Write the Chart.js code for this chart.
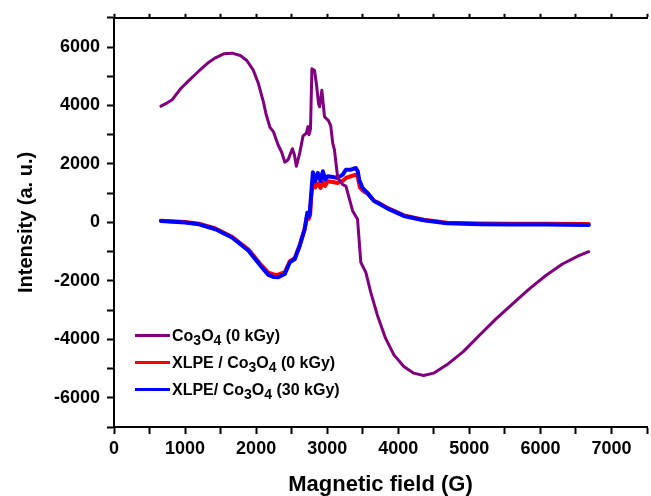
<!DOCTYPE html>
<html><head><meta charset="utf-8">
<script src="https://cdn.jsdelivr.net/npm/chart.js@4/dist/chart.umd.min.js"></script>
<style>
html,body{margin:0;padding:0;background:#fff;}
#wrap{position:relative;width:651px;height:496px;overflow:hidden;background:#fff;}
canvas{display:block;}
#legend{position:absolute;left:135px;top:322px;font:bold 16px "Liberation Sans",Arial,sans-serif;color:#000;}
.row{display:flex;align-items:center;height:27px;white-space:nowrap;}
.sw{width:35px;height:3px;margin-right:2px;flex:none;}
sub{font-size:14px;vertical-align:-4px;line-height:0;}
</style></head><body>
<div id="wrap"><canvas id="c" width="651" height="496"></canvas><div id="legend"></div></div>
<script>
// ---- data ----
const seriesLabels = [
  'Co<sub>3</sub>O<sub>4</sub> (0 kGy)',
  'XLPE / Co<sub>3</sub>O<sub>4</sub> (0 kGy)',
  'XLPE/ Co<sub>3</sub>O<sub>4</sub> (30 kGy)'
];
const seriesColors = ['#800080', '#ff0000', '#0000ff'];

const fieldCo3O4 = [660,750,820,940,1056,1195,1335,1428,1544,1660,1777,1869,1962,2032,2102,2140,2195,2242,2311,2360,2404,2450,2510,2540,2566,2613,2660,2706,2729,2745,2765,2785,2822,2850,2878,2893,2925,2962,3018,3050,3078,3102,3148,3218,3264,3290,3357,3427,3473,3543,3612,3706,3822,3939,4078,4218,4357,4497,4683,4915,5146,5379,5612,5844,6077,6310,6541,6681];
const intensityCo3O4 = [3976,4090,4200,4580,4860,5180,5480,5630,5766,5790,5708,5538,5200,4750,4126,3700,3250,3107,2640,2400,2060,2143,2520,2300,1919,2370,2960,3049,3277,3000,3200,5256,5199,4700,4068,3956,4520,3616,3480,3300,2710,2482,1520,1294,1239,1000,400,105,-1365,-1705,-2384,-3175,-3969,-4533,-4930,-5158,-5236,-5158,-4873,-4421,-3854,-3290,-2781,-2272,-1817,-1423,-1138,-1002];

const fieldXLPE0 = [660,1000,1195,1428,1660,1893,2079,2172,2250,2311,2404,2474,2544,2613,2683,2720,2740,2760,2776,2799,2813,2831,2869,2906,2939,2971,3008,3078,3148,3218,3264,3334,3403,3430,3460,3496,3566,3659,3706,3845,4078,4357,4683,5146,5612,6077,6681];
const intensityXLPE0 = [60,15,-45,-210,-490,-930,-1480,-1720,-1780,-1790,-1700,-1330,-1220,-780,-220,250,120,260,900,1400,1294,1200,1330,1180,1351,1250,1409,1380,1351,1420,1520,1579,1633,1560,1200,1100,990,740,690,500,240,90,-10,-40,-50,-50,-55];

const fieldXLPE30 = [660,1000,1195,1428,1660,1893,2079,2172,2250,2311,2404,2474,2544,2613,2683,2720,2740,2753,2776,2799,2831,2869,2906,2939,2971,3008,3078,3148,3218,3264,3334,3403,3430,3450,3496,3566,3659,3706,3845,4078,4357,4683,5146,5612,6077,6681];
const intensityXLPE30 = [51,0,-65,-234,-516,-968,-1535,-1796,-1870,-1874,-1762,-1365,-1253,-798,-234,333,200,300,1012,1715,1409,1691,1409,1749,1463,1579,1555,1521,1633,1803,1803,1861,1750,1463,1182,1012,730,672,480,221,71,-31,-65,-75,-75,-85];

const xTickValues = [0,1000,2000,3000,4000,5000,6000,7000];
const yTickValues = [-6000,-4000,-2000,0,2000,4000,6000];
const xTitle = 'Magnetic field (G)';
const yTitle = 'Intensity (a. u.)';

// ---- build ----
const toPts = (xs, ys) => xs.map((x, i) => ({x, y: ys[i]}));
const FONT = '"Liberation Sans", Arial, sans-serif';
Chart.defaults.font.family = FONT;
Chart.defaults.color = '#000';

const tickFont = {size: 18, weight: 'bold', family: FONT};
const gridCommon = {display: true, drawOnChartArea: false, drawTicks: true, tickLength: 7, tickColor: '#000', tickWidth: 2};
const borderCommon = {display: true, color: '#000', width: 2};

new Chart(document.getElementById('c'), {
  type: 'line',
  data: {
    datasets: [
      {label: 'Co3O4 (0 kGy)', data: toPts(fieldCo3O4, intensityCo3O4), borderColor: seriesColors[0], borderWidth: 3, order: 0},
      {label: 'XLPE / Co3O4 (0 kGy)', data: toPts(fieldXLPE0, intensityXLPE0), borderColor: seriesColors[1], borderWidth: 4, order: 2},
      {label: 'XLPE/ Co3O4 (30 kGy)', data: toPts(fieldXLPE30, intensityXLPE30), borderColor: seriesColors[2], borderWidth: 4, order: 1}
    ]
  },
  options: {
    responsive: false,
    animation: false,
    events: [],
    layout: {padding: 0},
    elements: {point: {radius: 0}, line: {tension: 0, borderJoinStyle: 'round', borderCapStyle: 'round'}},
    plugins: {legend: {display: false}, tooltip: {enabled: false}},
    scales: {
      x: {
        type: 'linear', position: 'bottom', min: 0, max: 7500,
        ticks: {stepSize: 500, font: tickFont, padding: 4, maxRotation: 0, autoSkip: false,
          callback: v => xTickValues.includes(v) ? String(v) : ''},
        grid: gridCommon, border: borderCommon,
        title: {display: true, text: xTitle, font: {size: 22, weight: 'bold', family: FONT, lineHeight: 1}, padding: {top: 0, bottom: 0}, color: '#000'},
        afterFit: s => { s.height = 69; }
      },
      x2: {
        type: 'linear', position: 'top', min: 0, max: 7500,
        ticks: {stepSize: 500, display: false},
        grid: Object.assign({}, gridCommon, {tickLength: 4}), border: borderCommon,
        afterFit: s => { s.height = 13; }
      },
      y: {
        type: 'linear', position: 'left', min: -7000, max: 7000,
        ticks: {stepSize: 1000, font: tickFont, padding: 7, autoSkip: false,
          callback: v => yTickValues.includes(v) ? String(v) : ''},
        grid: gridCommon, border: borderCommon,
        title: {display: true, text: yTitle, font: {size: 20, weight: 'bold', family: FONT, lineHeight: 1.2}, padding: {top: 14, bottom: 0}, color: '#000'},
        afterFit: s => { s.width = 114; }
      }
    }
  }
});

// HTML legend (real text with subscripts)
const lg = document.getElementById('legend');
seriesLabels.forEach((lab, i) => {
  const row = document.createElement('div'); row.className = 'row';
  const sw = document.createElement('span'); sw.className = 'sw'; sw.style.background = seriesColors[i];
  const tx = document.createElement('span'); tx.innerHTML = lab;
  row.appendChild(sw); row.appendChild(tx); lg.appendChild(row);
});
</script>
</body></html>
